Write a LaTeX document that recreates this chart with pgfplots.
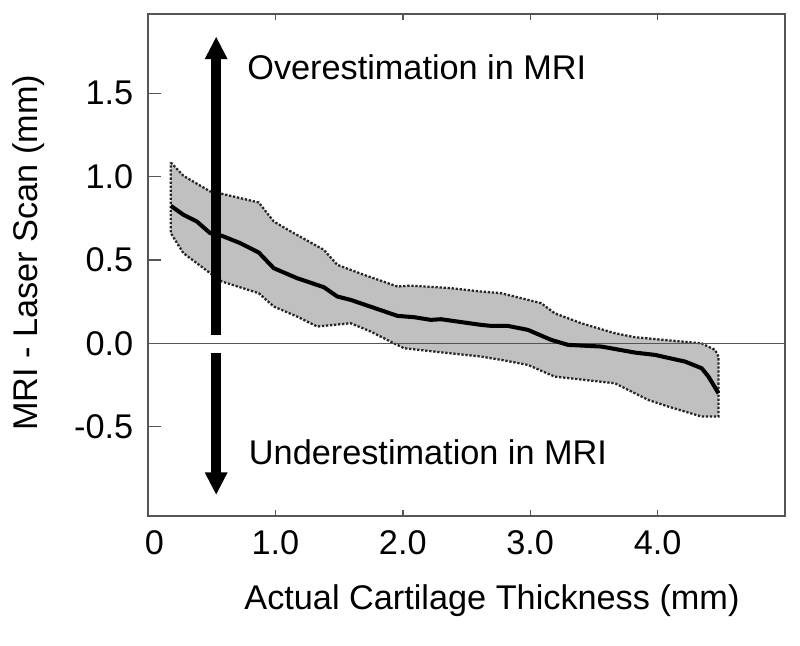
\documentclass[border=0pt]{standalone}
\usepackage{fontspec}
\setmainfont{Liberation Sans}
\usepackage{pgfplots}
\pgfplotsset{compat=1.18}
\usetikzlibrary{arrows.meta}

\definecolor{band}{RGB}{192,192,192}
\definecolor{frame}{RGB}{85,85,85}
\newcommand{\fs}{\fontsize{19.5}{23}\selectfont}

\begin{document}
\begin{tikzpicture}
\useasboundingbox (-2.96,-2.58) rectangle (13.04,10.32);
\begin{axis}[
    at={(0,0)}, anchor=south west,
    scale only axis,
    width=12.74cm, height=10.04cm,
    xmin=0, xmax=5,
    ymin=-1.035, ymax=1.975,
    xtick={0,1,2,3,4},
    xticklabels={\hspace{0.26cm}0,1.0,2.0,3.0,4.0},
    ytick={-0.5,0,0.5,1,1.5},
    yticklabels={-0.5,0.0,0.5,1.0,1.5},
    tick align=inside,
    xtick pos=both, ytick pos=left,
    xtick style={frame, line width=0.8pt, /pgfplots/major tick length=0.12cm},
    ytick style={frame, line width=0.8pt, /pgfplots/major tick length=0.26cm},
    axis line style={frame, line width=1pt},
    tick label style={font=\fs, black},
    xticklabel style={yshift=-0.17cm},
    yticklabel style={xshift=-0.17cm},
    label style={font=\fs, black},
    xlabel={Actual Cartilage Thickness (mm)},
    ylabel={MRI - Laser Scan (mm)},
    xlabel style={at={(axis description cs:0.54,-0.187)}, anchor=base},
    ylabel style={at={(axis description cs:-0.187,0.524)}, anchor=center},
    clip=false,
]
% +/- band (upper edge left to right, lower edge back)
\addplot[fill=band, draw=black!85, line width=1.3pt, densely dotted] coordinates {
    (0.179,1.085) (0.278,1.005) (0.488,0.911) (0.580,0.897) (0.869,0.845)
    (0.987,0.731) (1.144,0.661) (1.380,0.561) (1.486,0.471) (1.695,0.411)
    (1.958,0.341) (2.037,0.345) (2.089,0.345) (2.378,0.331) (2.614,0.311)
    (2.772,0.301) (3.087,0.241) (3.191,0.181) (3.400,0.121) (3.664,0.061)
    (3.821,0.037) (4.346,0.000) (4.451,-0.039) (4.478,-0.079) (4.478,-0.439)
    (4.346,-0.439) (4.084,-0.379) (3.927,-0.339) (3.664,-0.239) (3.191,-0.199)
    (2.982,-0.129) (2.772,-0.099) (2.614,-0.079) (2.247,-0.049) (2.010,-0.029)
    (1.984,-0.019) (1.932,0.000) (1.748,0.071) (1.590,0.121) (1.328,0.101)
    (1.170,0.161) (0.987,0.221) (0.869,0.301) (0.580,0.371) (0.488,0.421)
    (0.278,0.541) (0.179,0.661)
} -- cycle;
% zero line
\addplot[frame, line width=0.9pt] coordinates {(0,0) (5,0)};
% mean difference
\addplot[black, line width=2.3pt, line join=round] coordinates {
    (0.179,0.825) (0.278,0.771) (0.383,0.731) (0.488,0.661) (0.580,0.645)
    (0.724,0.601) (0.869,0.545) (0.987,0.451) (1.170,0.391) (1.380,0.337)
    (1.486,0.281) (1.590,0.261) (1.958,0.165) (2.089,0.157) (2.220,0.141)
    (2.299,0.145) (2.614,0.111) (2.693,0.105) (2.824,0.105) (2.982,0.081)
    (3.165,0.021) (3.297,-0.009) (3.559,-0.019) (3.821,-0.055) (3.979,-0.069)
    (4.215,-0.109) (4.346,-0.149) (4.399,-0.199) (4.478,-0.299)
};
% direction arrows
\draw[black, line width=0.21cm, -{Triangle[length=0.45cm, width=0.42cm]}]
    (axis cs:0.535,0.05) -- (axis cs:0.535,1.84);
\draw[black, line width=0.21cm, -{Triangle[length=0.45cm, width=0.42cm]}]
    (axis cs:0.535,-0.055) -- (axis cs:0.535,-0.909);
\node[font=\fs, anchor=base west, inner sep=0pt] at (axis cs:0.777,1.58) {Overestimation in MRI};
\node[font=\fs, anchor=base west, inner sep=0pt] at (axis cs:0.79,-0.729) {Underestimation in MRI};
\end{axis}
\end{tikzpicture}
\end{document}
